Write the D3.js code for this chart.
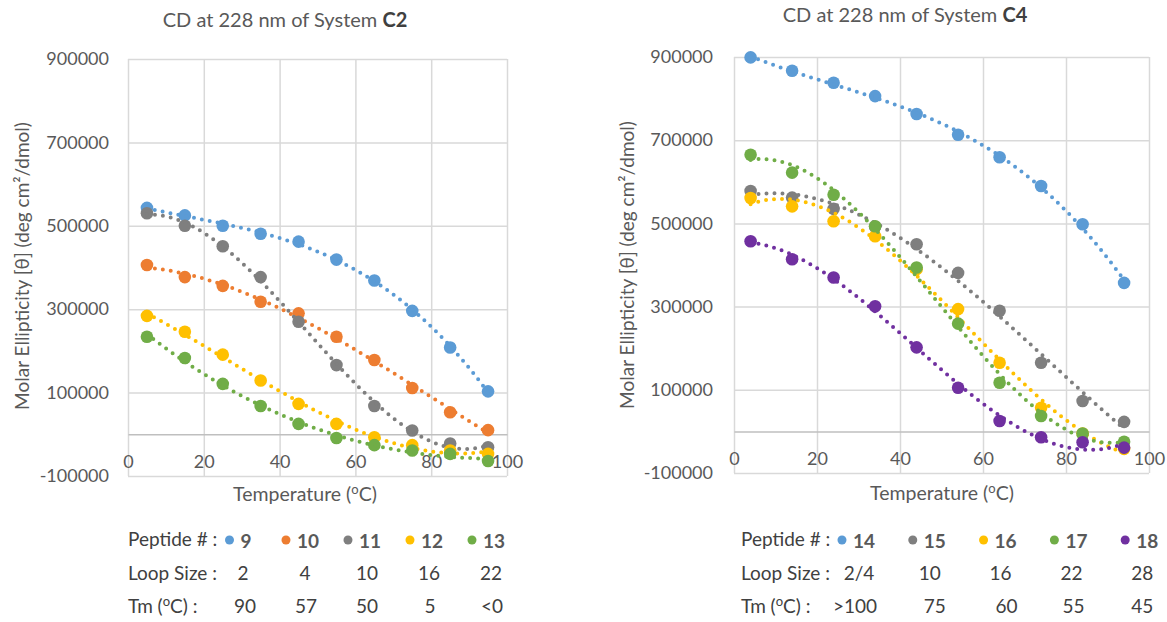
<!DOCTYPE html>
<html><head><meta charset="utf-8">
<script src="https://cdn.jsdelivr.net/npm/d3@7"></script>
<style>
body{margin:0;background:#fff}
svg{display:block}
text{font-family:Lato,"Open Sans",sans-serif}
</style>
</head><body>
<svg id="c" width="1167" height="622"></svg>
<script>
// ---------------- DATA ----------------
const tempsC2 = [5, 15, 25, 35, 45, 55, 65, 75, 85, 95];
const tempsC4 = [4, 14, 24, 34, 44, 54, 64, 74, 84, 94];

// System C2 (molar ellipticity, deg cm2/dmol)
const pep9  = [543000, 525000, 500000, 481000, 462000, 419000, 369000, 296000, 208000, 103000];
const pep10 = [406000, 377000, 356000, 318000, 290000, 234000, 178000, 111000, 53000, 10000];
const pep11 = [530000, 500000, 451000, 377000, 270000, 166000, 68000, 9000, -22000, -31000];
const pep12 = [284000, 246000, 191000, 129000, 73000, 25000, -7000, -26000, -39000, -47000];
const pep13 = [234000, 183000, 121000, 68000, 25000, -9000, -26000, -39000, -47000, -64000];

// System C4
const pep14 = [899000, 867000, 838000, 806000, 763000, 713000, 659000, 590000, 498000, 357000];
const pep15 = [578000, 562000, 535000, 492000, 450000, 381000, 290000, 165000, 73000, 23000];
const pep16 = [561000, 541000, 505000, 469000, 390000, 294000, 165000, 57000, -5000, -42000];
const pep17 = [665000, 622000, 569000, 493000, 394000, 259000, 117000, 37000, -5000, -25000];
const pep18 = [457000, 414000, 370000, 301000, 202000, 105000, 25000, -14000, -26000, -39000];

// legend tables
const c2Peptides = ["9", "10", "11", "12", "13"];
const c2LoopSize = ["2", "4", "10", "16", "22"];
const c2Tm       = ["90", "57", "50", "5", "<0"];
const c4Peptides = ["14", "15", "16", "17", "18"];
const c4LoopSize = ["2/4", "10", "16", "22", "28"];
const c4Tm       = [">100", "75", "60", "55", "45"];

// axis ticks
const xTicks = [0, 20, 40, 60, 80, 100];
const yTicks = [-100000, 100000, 300000, 500000, 700000, 900000];
const xDomain = [0, 100];
const yDomain = [-100000, 900000];

// ---------------- STYLE ----------------
const FONT = 'Lato,"Open Sans",sans-serif';
const COL = {blue:"#5B9BD5", orange:"#ED7D31", grey:"#7F7F7F", yellow:"#FFC000", green:"#70AD47", purple:"#7030A0"};
const c2Colors = [COL.blue, COL.orange, COL.grey, COL.yellow, COL.green];
const c4Colors = [COL.blue, COL.grey, COL.yellow, COL.green, COL.purple];

// polynomial (cubic) trendline, least squares
function polyfit(xs, ys, deg) {
  const n = deg + 1;
  const A = Array.from({length: n}, () => Array(n + 1).fill(0));
  xs.forEach((x, k) => {
    const t = x / 100;
    for (let i = 0; i < n; i++) {
      for (let j = 0; j < n; j++) A[i][j] += Math.pow(t, i + j);
      A[i][n] += ys[k] * Math.pow(t, i);
    }
  });
  for (let i = 0; i < n; i++) {
    let p = i;
    for (let r = i + 1; r < n; r++) if (Math.abs(A[r][i]) > Math.abs(A[p][i])) p = r;
    [A[i], A[p]] = [A[p], A[i]];
    for (let r = 0; r < n; r++) {
      if (r === i) continue;
      const f = A[r][i] / A[i][i];
      for (let c = i; c <= n; c++) A[r][c] -= f * A[i][c];
    }
  }
  const coef = A.map((row, i) => row[n] / row[i]);
  return x => coef.reduce((s, c, i) => s + c * Math.pow(x / 100, i), 0);
}

const svg = d3.select("#c");

function drawChart(cfg) {
  const L = cfg.layout;
  const x = d3.scaleLinear().domain(xDomain).range([L.left, L.right]);
  const y = d3.scaleLinear().domain(yDomain).range([L.bottom, L.top]);
  const g = svg.append("g");

  // title
  const t = g.append("text").attr("x", L.titleX).attr("y", L.titleY)
    .attr("text-anchor", "middle").attr("font-size", 20).attr("fill", "#595959");
  t.append("tspan").text(cfg.titlePrefix);
  t.append("tspan").attr("font-weight", 700).attr("fill", "#404040").text(cfg.titleBold);

  // horizontal gridlines + y labels
  const yAxis = d3.axisLeft(y).tickValues(yTicks).tickFormat(d => String(d))
    .tickSize(-(L.right - L.left)).tickPadding(L.yPad);
  const gy = g.append("g").attr("transform", `translate(${L.left},0)`).call(yAxis);
  gy.select(".domain").remove();
  gy.selectAll("line").attr("stroke", "#D9D9D9").attr("stroke-width", 1.5);
  gy.selectAll("text").attr("font-size", 18).attr("fill", "#595959").attr("font-family", FONT);

  // vertical gridlines
  const xGrid = d3.axisBottom(x).tickValues(xTicks).tickSize(-(L.bottom - L.top)).tickFormat("");
  const gx = g.append("g").attr("transform", `translate(0,${L.bottom})`).call(xGrid);
  gx.select(".domain").remove();
  gx.selectAll("line").attr("stroke", "#D9D9D9").attr("stroke-width", 1.5);

  // x axis at zero
  const xAxis = d3.axisBottom(x).tickValues(xTicks).tickSize(0).tickPadding(L.xPad).tickFormat(d => String(d));
  const gx0 = g.append("g").attr("transform", `translate(0,${y(0)})`).call(xAxis);
  gx0.select(".domain").attr("stroke", "#BFBFBF").attr("stroke-width", 1.5);
  gx0.selectAll("text").attr("font-size", 18).attr("fill", "#595959").attr("font-family", FONT);

  // axis titles
  const yt = g.append("text")
    .attr("transform", `translate(${L.yTitleX},${L.yTitleCY}) rotate(-90)`)
    .attr("text-anchor", "middle").attr("font-size", 19).attr("fill", "#595959");
  yt.text("Molar Ellipticity [θ] (deg cm²/dmol)");
  const xt = g.append("text").attr("x", L.xTitleX).attr("y", L.xTitleY)
    .attr("text-anchor", "middle").attr("font-size", 19.5).attr("fill", "#595959");
  xt.append("tspan").text("Temperature (");
  xt.append("tspan").attr("font-size", 13).attr("dy", -7).text("o");
  xt.append("tspan").attr("dy", 7).text("C)");

  // series
  const line = d3.line().x(d => x(d[0])).y(d => y(d[1])).curve(d3.curveLinear);
  cfg.series.forEach((vals, si) => {
    const color = cfg.colors[si];
    const temps = cfg.temps;
    const f = polyfit(temps, vals, 3);
    const x0 = temps[0], x1 = temps[temps.length - 1];
    const pts = d3.range(0, 201).map(i => { const tt = x0 + (x1 - x0) * i / 200; return [tt, f(tt)]; });
    g.append("g").selectAll("circle").data(temps.map((tt, i) => [tt, vals[i]])).join("circle")
      .attr("cx", d => x(d[0])).attr("cy", d => y(d[1])).attr("r", 6.3).attr("fill", color);
    g.append("path").datum(pts).attr("d", line).attr("fill", "none").attr("stroke", color)
      .attr("stroke-width", 4).attr("stroke-linecap", "round").attr("stroke-dasharray", "0 8");
  });

  // legend table
  const rowsY = L.legendRows;
  const labels = [["Peptide # :"], ["Loop Size :"], ["Tm (", "o", "C) :"]];
  labels.forEach((lab, r) => {
    const tx = g.append("text").attr("x", L.legendLabelX).attr("y", rowsY[r])
      .attr("font-size", 19).attr("fill", "#404040");
    if (lab.length === 1) tx.text(lab[0]);
    else {
      tx.append("tspan").text(lab[0]);
      tx.append("tspan").attr("font-size", 13).attr("dy", -7).text(lab[1]);
      tx.append("tspan").attr("dy", 7).text(lab[2]);
    }
  });
  const colX = i => L.colStart + i * L.colStep;
  cfg.peptides.forEach((p, i) => {
    const txt = g.append("text").attr("x", colX(i) + L.pepShift).attr("y", rowsY[0] + 2)
      .attr("text-anchor", "middle").attr("font-size", 19).attr("font-weight", 700)
      .attr("fill", "#595959").text(p);
    const w = txt.node().getComputedTextLength();
    g.append("circle").attr("cx", colX(i) + L.pepShift - w / 2 - 11).attr("cy", rowsY[0] - 6)
      .attr("r", 4.5).attr("fill", cfg.colors[i]);
  });
  cfg.loop.forEach((v, i) => {
    g.append("text").attr("x", colX(i)).attr("y", rowsY[1]).attr("text-anchor", "middle")
      .attr("font-size", 19).attr("fill", "#404040").text(v);
  });
  cfg.tm.forEach((v, i) => {
    g.append("text").attr("x", colX(i) + L.tmShift[i]).attr("y", rowsY[2]).attr("text-anchor", "middle")
      .attr("font-size", 19).attr("fill", "#404040").text(v);
  });
}

drawChart({
  titlePrefix: "CD at 228 nm of System ", titleBold: "C2",
  temps: tempsC2, series: [pep9, pep10, pep11, pep12, pep13], colors: c2Colors,
  peptides: c2Peptides, loop: c2LoopSize, tm: c2Tm,
  layout: {left: 128, right: 507, top: 59, bottom: 476, titleX: 285, titleY: 27,
    yPad: 19, xPad: 21, yTitleX: 29, yTitleCY: 266, xTitleX: 305, xTitleY: 501,
    legendRows: [546, 580, 613], legendLabelX: 128, colStart: 243, colStep: 62, pepShift: 3,
    tmShift: [2, 1, 0, 1, 1]}
});
drawChart({
  titlePrefix: "CD at 228 nm of System ", titleBold: "C4",
  temps: tempsC4, series: [pep14, pep15, pep16, pep17, pep18], colors: c4Colors,
  peptides: c4Peptides, loop: c4LoopSize, tm: c4Tm,
  layout: {left: 734, right: 1149, top: 57, bottom: 473, titleX: 905, titleY: 22,
    yPad: 21, xPad: 21, yTitleX: 634, yTitleCY: 265, xTitleX: 942, xTitleY: 500,
    legendRows: [546, 580, 613], legendLabelX: 741, colStart: 859, colStep: 70.8, pepShift: 5,
    tmShift: [-4, 5, 6, 2, 0]}
});
</script>
</body></html>
